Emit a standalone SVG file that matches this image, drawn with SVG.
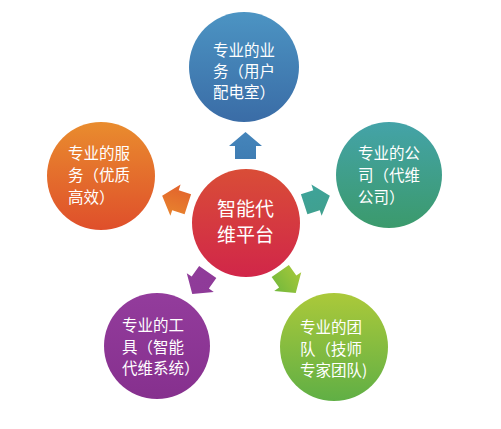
<svg xmlns="http://www.w3.org/2000/svg" width="501" height="429" viewBox="0 0 501 429">
<defs>
<linearGradient id="gTop" x1="0" y1="0" x2="0" y2="1"><stop offset="0" stop-color="#4c94c3"/><stop offset="1" stop-color="#3a6ca6"/></linearGradient>
<linearGradient id="gRight" x1="0" y1="0" x2="0" y2="1"><stop offset="0" stop-color="#44a3a8"/><stop offset="1" stop-color="#3b9a6c"/></linearGradient>
<linearGradient id="gLeft" x1="0" y1="0" x2="0" y2="1"><stop offset="0" stop-color="#e98c2e"/><stop offset="1" stop-color="#df4f2b"/></linearGradient>
<linearGradient id="gCenter" x1="0" y1="0" x2="0" y2="1"><stop offset="0" stop-color="#d94d37"/><stop offset="1" stop-color="#d12649"/></linearGradient>
<linearGradient id="gBL" x1="0" y1="0" x2="0" y2="1"><stop offset="0" stop-color="#933c9c"/><stop offset="1" stop-color="#86308e"/></linearGradient>
<linearGradient id="gBR" x1="0" y1="0" x2="0" y2="1"><stop offset="0" stop-color="#abc93a"/><stop offset="1" stop-color="#60af45"/></linearGradient>
<linearGradient id="aTop" x1="0" y1="0" x2="0" y2="1"><stop offset="0" stop-color="#4585bb"/><stop offset="1" stop-color="#3f7db3"/></linearGradient>
<linearGradient id="aRight" x1="0" y1="0" x2="1" y2="0"><stop offset="0" stop-color="#3ea39a"/><stop offset="1" stop-color="#40a08e"/></linearGradient>
<linearGradient id="aLeft" x1="0" y1="0" x2="1" y2="0"><stop offset="0" stop-color="#e8842e"/><stop offset="1" stop-color="#e2622c"/></linearGradient>
<linearGradient id="aBL" x1="0" y1="0" x2="1" y2="0"><stop offset="0" stop-color="#8e3a98"/><stop offset="1" stop-color="#903c9a"/></linearGradient>
<linearGradient id="aBR" x1="0" y1="0" x2="1" y2="0"><stop offset="0" stop-color="#a6c83a"/><stop offset="1" stop-color="#72b83c"/></linearGradient>
<path id="arrow" d="M0,-13.5 L16.5,0.5 L10.5,0.5 L10.5,13.5 L-10.5,13.5 L-10.5,0.5 L-16.5,0.5 Z"/>
</defs>
<style>
text { font-family: "Noto Sans CJK SC", "Microsoft YaHei", sans-serif; fill: #ffffff; font-size: 15.5px; }
.big { font-size: 19px; }
</style>
<rect width="501" height="429" fill="#ffffff"/>
<g id="connectors">
<use href="#arrow" fill="url(#aTop)" transform="translate(245.5,145.5)"/>
<use href="#arrow" fill="url(#aRight)" transform="translate(317,200) rotate(72)"/>
<use href="#arrow" fill="url(#aLeft)" transform="translate(175,200) rotate(-72)"/>
<use href="#arrow" fill="url(#aBL)" transform="translate(200,283) rotate(215)"/>
<use href="#arrow" fill="url(#aBR)" transform="translate(288,282) rotate(145)"/>
</g>
<g id="node-center">
<circle cx="246" cy="223" r="54" fill="url(#gCenter)"/>
<text class="big" x="217" y="216">智能代</text>
<text class="big" x="217" y="242">维平台</text>
</g>
<g id="node-top">
<circle cx="244" cy="67" r="55" fill="url(#gTop)"/>
<text x="213" y="56">专业的业</text>
<text x="213" y="77">务（用户</text>
<text x="213" y="98">配电室）</text>
</g>
<g id="node-right">
<circle cx="389" cy="175" r="53" fill="url(#gRight)"/>
<text x="358" y="159">专业的公</text>
<text x="358" y="181">司（代维</text>
<text x="358" y="203">公司）</text>
</g>
<g id="node-left">
<circle cx="101" cy="176" r="54" fill="url(#gLeft)"/>
<text x="68" y="159">专业的服</text>
<text x="68" y="181">务（优质</text>
<text x="68" y="203">高效）</text>
</g>
<g id="node-bottom-left">
<circle cx="157" cy="346" r="53" fill="url(#gBL)"/>
<text x="122" y="331">专业的工</text>
<text x="122" y="353">具（智能</text>
<text x="122" y="374">代维系统）</text>
</g>
<g id="node-bottom-right">
<circle cx="334" cy="347" r="54" fill="url(#gBR)"/>
<text x="300" y="333">专业的团</text>
<text x="300" y="355">队（技师</text>
<text x="300" y="376">专家团队)</text>
</g>
</svg>
